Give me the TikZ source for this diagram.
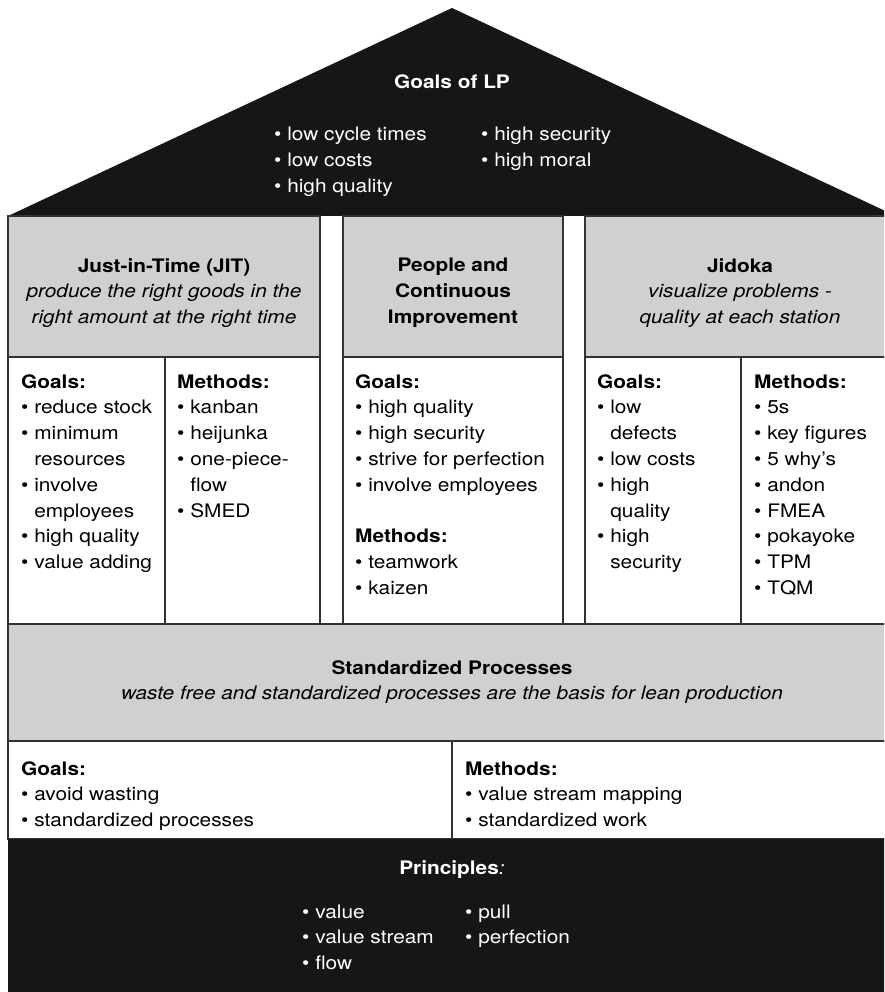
\documentclass[tikz,border=0pt]{standalone}
\usepackage{fontspec}
\setmainfont[FakeStretch=1.12]{TeX Gyre Heros}

\definecolor{roofblack}{HTML}{161616}
\definecolor{pillargray}{HTML}{CFD0CF}
\definecolor{edgegray}{HTML}{333333}

\newcommand{\itemdot}{\textbullet\ }
\newcommand{\itemgap}{\phantom{\textbullet\ }}
% list whose baseline is the first line
\newcommand{\toplist}[1]{\begin{tabular}[t]{@{}l@{}}#1\end{tabular}}

\begin{document}
\begin{tikzpicture}[
            x=1pt, y=-1pt,
            roof/.style={fill=roofblack},
            headbox/.style={fill=pillargray, draw=edgegray, line width=1.3pt},
            bodybox/.style={fill=white, draw=edgegray, line width=1.3pt},
            txt/.style={inner sep=0pt, font=\fontsize{18.6}{25.8}\selectfont},
            listtxt/.style={txt, anchor=base west},
            headtxt/.style={txt, align=center},
        ]
            \fill[white] (0,0) rectangle (884,992);
            \clip (0,0) rectangle (884,992);

            %Roof
            \fill[roof] (8,216) -- (452,8) -- (896,216) -- cycle;

            %Pillars
            \draw[headbox] (8,216) rectangle (320,357);
            \draw[bodybox] (8,357) rectangle (320,624);
            \draw[edgegray, line width=1.3pt] (165,357) -- (165,624);

            \draw[headbox] (343,216) rectangle (563,357);
            \draw[bodybox] (343,357) rectangle (563,624);

            \draw[headbox] (585,216) rectangle (896,357);
            \draw[bodybox] (585,357) rectangle (896,624);
            \draw[edgegray, line width=1.3pt] (741,357) -- (741,624);

            %Base
            \draw[headbox] (8,624) rectangle (896,741);
            \draw[bodybox] (8,741) rectangle (896,839);
            \draw[edgegray, line width=1.3pt] (452,741) -- (452,839);

            \fill[roof] (8,839) rectangle (896,992);

            %Nodes
            \node[txt, anchor=base, text=white] (goalslp) at (452,89) {\textbf{Goals of LP}};
            \node[listtxt, text=white] (goalsa) at (274,141) {\toplist{\itemdot low cycle times\\ \itemdot low costs\\ \itemdot high quality}};
            \node[listtxt, text=white] (goalsb) at (481,141) {\toplist{\itemdot high security\\ \itemdot high moral}};

            \node[headtxt] (jit) at (164,293) {\textbf{Just-in-Time (JIT)}\\ \textit{produce the right goods in the}\\ \textit{right amount at the right time}};
            \node[headtxt] (people) at (453,293) {\textbf{People and}\\ \textbf{Continuous}\\ \textbf{Improvement}};
            \node[headtxt] (jidoka) at (740,293) {\textbf{Jidoka}\\ \textit{visualize problems -}\\ \textit{quality at each station}};

            \node[listtxt] (jitgoals) at (21,388) {\toplist{\textbf{Goals:}\\ \itemdot reduce stock\\ \itemdot minimum\\ \itemgap resources\\ \itemdot involve\\ \itemgap employees\\ \itemdot high quality\\ \itemdot value adding}};
            \node[listtxt] (jitmethods) at (177,388) {\toplist{\textbf{Methods:}\\ \itemdot kanban\\ \itemdot heijunka\\ \itemdot one-piece-\\ \itemgap flow\\ \itemdot SMED}};

            \node[listtxt] (peoplelist) at (355,388) {\toplist{\textbf{Goals:}\\ \itemdot high quality\\ \itemdot high security\\ \itemdot strive for perfection\\ \itemdot involve employees\\ \\ \textbf{Methods:}\\ \itemdot teamwork\\ \itemdot kaizen}};

            \node[listtxt] (jidokagoals) at (597,388) {\toplist{\textbf{Goals:}\\ \itemdot low\\ \itemgap defects\\ \itemdot low costs\\ \itemdot high\\ \itemgap quality\\ \itemdot high\\ \itemgap security}};
            \node[listtxt] (jidokamethods) at (754,388) {\toplist{\textbf{Methods:}\\ \itemdot 5s\\ \itemdot key figures\\ \itemdot 5 why’s\\ \itemdot andon\\ \itemdot FMEA\\ \itemdot pokayoke\\ \itemdot TPM\\ \itemdot TQM}};

            \node[headtxt] (standard) at (452,682) {\textbf{Standardized Processes}\\ \textit{waste free and standardized processes are the basis for lean production}};
            \node[listtxt] (stdgoals) at (21,775) {\toplist{\textbf{Goals:}\\ \itemdot avoid wasting\\ \itemdot standardized processes}};
            \node[listtxt] (stdmethods) at (465,775) {\toplist{\textbf{Methods:}\\ \itemdot value stream mapping\\ \itemdot standardized work}};

            \node[txt, anchor=base, text=white] (principles) at (452,874) {\textbf{Principles}\textit{:}};
            \node[listtxt, text=white] (principa) at (302,918) {\toplist{\itemdot value\\ \itemdot value stream\\ \itemdot flow}};
            \node[listtxt, text=white] (principb) at (465,918) {\toplist{\itemdot pull\\ \itemdot perfection}};
        \end{tikzpicture}
\end{document}
